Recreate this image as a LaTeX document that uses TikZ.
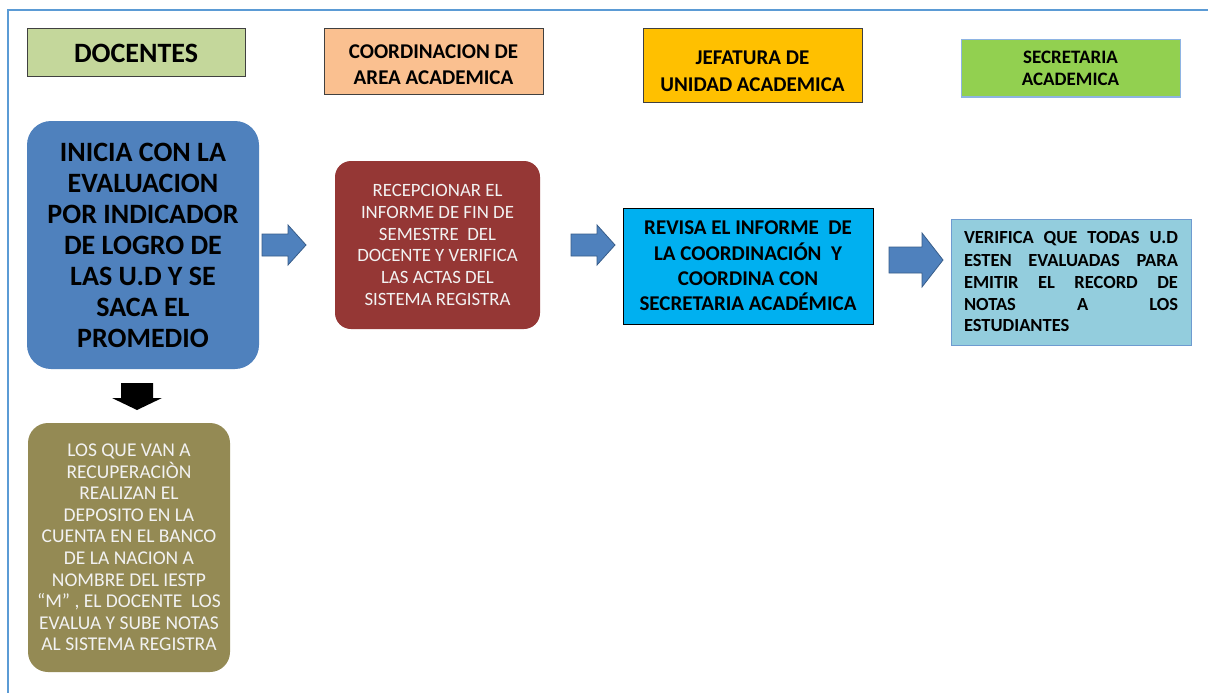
\documentclass[tikz,border=0pt]{standalone}
\usepackage{fontspec}
\setmainfont{Carlito}
\definecolor{frameblue}{HTML}{5B9BD5}
\definecolor{docgreen}{HTML}{C4D79B}
\definecolor{peach}{HTML}{FAC090}
\definecolor{gold}{HTML}{FFC000}
\definecolor{secgreen}{HTML}{92D050}
\definecolor{secedge}{HTML}{8EB4E3}
\definecolor{mainblue}{HTML}{4F81BD}
\definecolor{darkblue}{HTML}{385D8A}
\definecolor{brickred}{HTML}{953735}
\definecolor{cyanbox}{HTML}{00B0F0}
\definecolor{paleblue}{HTML}{93CDDD}
\definecolor{paleedge}{HTML}{6E9BD0}
\definecolor{olive}{HTML}{948A54}
\definecolor{cream}{HTML}{F2F2F2}
\definecolor{edgegray}{HTML}{404040}
\begin{document}
\begin{tikzpicture}[x=1pt,y=-1pt,
  header/.style={draw=edgegray,line width=1pt,inner sep=0pt,align=center,font=\bfseries},
  roundbox/.style={rounded corners=20pt,inner sep=0pt,align=center},
  blockarrow/.style={fill=mainblue,draw=darkblue,line width=0.8pt,line join=miter}]
\useasboundingbox (0,0) rectangle (1208,693);
\fill[white] (0,0) rectangle (1208,693);
% frame
\draw[frameblue,line width=1.6pt] (8,693) -- (8,10) -- (1208,10);

% column headers
\node[header,fill=docgreen,minimum width=218pt,minimum height=48pt,font=\bfseries\fontsize{28}{30}\selectfont] (doc) at (136,53) {DOCENTES};
\node[header,fill=peach,minimum width=219pt,minimum height=66pt,font=\bfseries\fontsize{21}{26}\selectfont] (coord) at (433.5,62) {\rule{0pt}{19pt}COORDINACION DE\\AREA ACADEMICA};
\node[header,fill=gold,minimum width=219pt,minimum height=73pt,font=\bfseries\fontsize{21}{27}\selectfont] (jef) at (752.5,65.5) {\rule{0pt}{26pt}JEFATURA DE\\UNIDAD ACADEMICA};
\node[header,draw=secedge,fill=secgreen,minimum width=219pt,minimum height=57pt,font=\bfseries\fontsize{19}{22}\selectfont] (sec) at (1070.5,68.5) {SECRETARIA\\ACADEMICA};

% process boxes
\node[roundbox,rounded corners=24pt,fill=mainblue,minimum width=232pt,minimum height=248pt,font=\bfseries\fontsize{28}{31}\selectfont] (ini) at (143,245)
  {INICIA CON LA\\EVALUACION\\POR INDICADOR\\DE LOGRO DE\\LAS U.D Y SE\\SACA EL\\PROMEDIO};
\node[roundbox,rounded corners=16pt,fill=brickred,text=cream,minimum width=205pt,minimum height=168pt,font=\fontsize{18.8}{21.7}\selectfont] (rec) at (437.5,245)
  {RECEPCIONAR EL\\INFORME DE FIN DE\\SEMESTRE\ \ DEL\\DOCENTE Y VERIFICA\\LAS ACTAS DEL\\SISTEMA REGISTRA};
\node[draw=black,line width=1pt,fill=cyanbox,inner sep=0pt,align=center,minimum width=250pt,minimum height=116pt,font=\bfseries\fontsize{21}{25.3}\selectfont] (rev) at (748,266)
  {REVISA EL INFORME\ \ DE\\LA COORDINACIÓN\ \ Y\\COORDINA CON\\SECRETARIA ACADÉMICA};
\node[draw=paleedge,line width=1pt,fill=paleblue,inner sep=0pt,minimum width=240pt,minimum height=126pt,font=\bfseries\fontsize{18.5}{22}\selectfont] (ver) at (1071,282)
  {\parbox{214pt}{\makebox[214pt][s]{VERIFICA QUE TODAS U.D}\\\makebox[214pt][s]{ESTEN EVALUADAS PARA}\\\makebox[214pt][s]{EMITIR EL RECORD DE}\\\makebox[214pt][s]{NOTAS A LOS}\\ESTUDIANTES}};
\node[roundbox,rounded corners=20pt,fill=olive,text=cream,minimum width=202pt,minimum height=249pt,font=\fontsize{19.5}{21.6}\selectfont] (rcp) at (129,547.5)
  {LOS QUE VAN A\\RECUPERACIÒN\\REALIZAN EL\\DEPOSITO EN LA\\CUENTA EN EL BANCO\\DE LA NACION A\\NOMBRE DEL IESTP\\“M” , EL DOCENTE\ \ LOS\\EVALUA Y SUBE NOTAS\\AL SISTEMA REGISTRA};

% block arrows
\filldraw[blockarrow] (262,234) -- (288,234) -- (288,225) -- (306,245) -- (288,265) -- (288,256) -- (262,256) -- cycle;
\filldraw[blockarrow] (571,234) -- (597,234) -- (597,225) -- (615,245) -- (597,265) -- (597,256) -- (571,256) -- cycle;
\filldraw[blockarrow] (889,247) -- (922,247) -- (922,233) -- (943,260) -- (922,287) -- (922,273) -- (889,273) -- cycle;
\fill[black] (121,383) -- (153,383) -- (153,398) -- (162,398) -- (137,410) -- (112,398) -- (121,398) -- cycle;
\end{tikzpicture}
\end{document}
